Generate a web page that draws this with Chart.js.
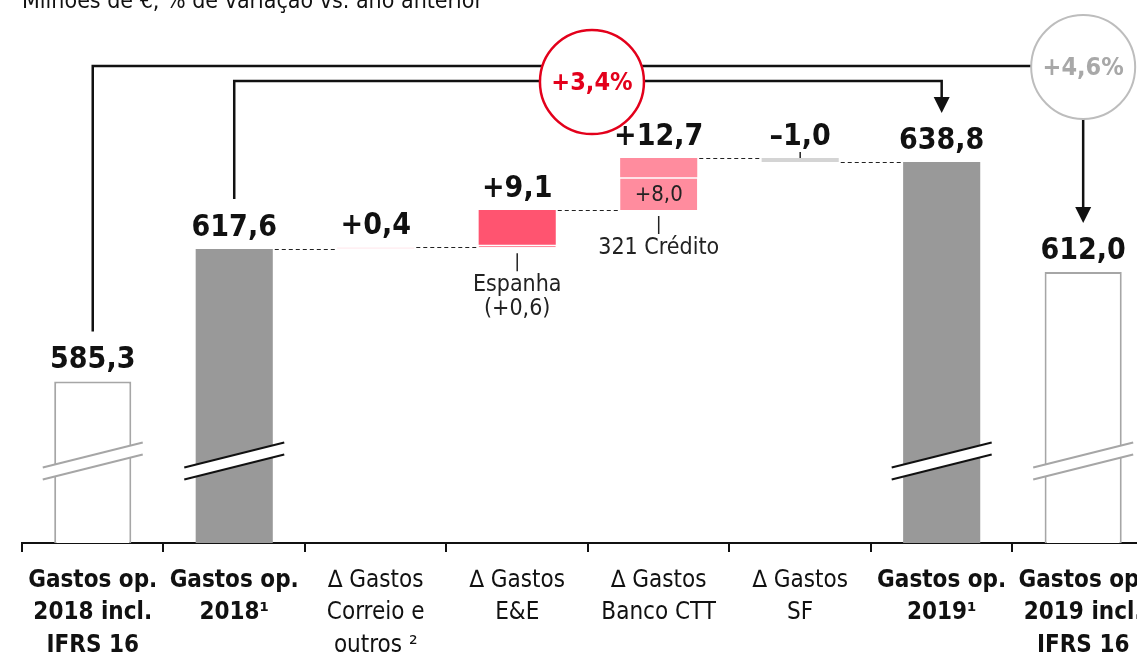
<!DOCTYPE html>
<html>
<head>
<meta charset="utf-8">
<script src="https://cdn.jsdelivr.net/npm/chart.js@4.4.1/dist/chart.umd.min.js"></script>
<style>
  html, body { margin: 0; padding: 0; background: #fff; overflow: hidden; }
  #wrap { width: 1160px; height: 656px; position: relative; }
</style>
</head>
<body>
<div id="wrap"><canvas id="chart"></canvas></div>
<script>
// Dados (milhões de euros)
const categories = [
  ['Gastos op.', '2018 incl.', 'IFRS 16'],
  ['Gastos op.', '2018¹'],
  ['∆ Gastos', 'Correio e', 'outros ²'],
  ['∆ Gastos', 'E&E'],
  ['∆ Gastos', 'Banco CTT'],
  ['∆ Gastos', 'SF'],
  ['Gastos op.', '2019¹'],
  ['Gastos op.', '2019 incl.', 'IFRS 16']
];
const totals = [585.3, 617.6, null, null, null, null, 638.8, 612.0];
const deltas = [null, null, 0.4, 9.1, 12.7, -1.0, null, null];
const subParts = [null, null, null, 0.6, 8.0, null, null, null];
const subNotes = [null, null, null, ['Espanha', '(+0,6)'], ['321 Crédito'], null, null, null];
const growthFrom = [1, 0];
const growthTo = [6, 7];
const growthLabels = ['+3,4%', '+4,6%'];
const title = 'Milhões de €, % de variação vs. ano anterior';

const FONT = '"DejaVu Sans Condensed", "DejaVu Sans", sans-serif';
const Y_MIN = 545.9;
const Y_MAX = 678.3;

// Calcular inicio e fim de cada variacao
let running = totals[1];
const deltaStart = [];
const deltaEnd = [];
deltas.forEach(d => {
  if (d === null) { deltaStart.push(null); deltaEnd.push(null); return; }
  deltaStart.push(running);
  running = +(running + d).toFixed(1);
  deltaEnd.push(running);
});
const restData = deltas.map((d, i) => d === null ? null : [deltaStart[i] + (subParts[i] || 0), deltaEnd[i]]);
const subData = subParts.map((s, i) => s === null ? null : [deltaStart[i], deltaStart[i] + s]);

const hollow = i => i === 0 || i === 7;
const deltaColors = ['#fff0f3', '#ff5470', '#ff8c9e', '#d4d4d4'];

function fmt(v) { return Math.abs(v).toFixed(1).replace('.', ','); }
function topOf(i) { return totals[i] !== null ? totals[i] : Math.max(deltaStart[i], deltaEnd[i]); }
function bottomOf(i) { return Math.min(deltaStart[i], deltaEnd[i]); }
function levelAfter(i) { return totals[i] !== null ? totals[i] : deltaEnd[i]; }

const decor = {
  id: 'decor',
  afterDraw(chart) {
    const { ctx, chartArea: area, scales: { x, y } } = chart;
    const barW = chart.getDatasetMeta(0).data[1].width;
    ctx.save();

    // Titulo (cortado no topo)
    ctx.fillStyle = '#111';
    ctx.font = '23px ' + FONT;
    ctx.textAlign = 'left';
    ctx.textBaseline = 'alphabetic';
    ctx.fillText(title, 22, 8);

    // Quebras do eixo
    totals.forEach((v, i) => {
      if (v === null) return;
      const cx = x.getPixelForValue(i);
      const yc = area.bottom - 82;
      ctx.fillStyle = '#fff';
      ctx.beginPath();
      ctx.moveTo(cx - 50, yc - 6 + 12.5);
      ctx.lineTo(cx + 50, yc - 6 - 12.5);
      ctx.lineTo(cx + 50, yc + 6 - 12.5);
      ctx.lineTo(cx - 50, yc + 6 + 12.5);
      ctx.closePath();
      ctx.fill();
      ctx.strokeStyle = hollow(i) ? '#a6a6a6' : '#111';
      ctx.lineWidth = 2;
      [-6, 6].forEach(off => {
        ctx.beginPath();
        ctx.moveTo(cx - 50, yc + off + 12.5);
        ctx.lineTo(cx + 50, yc + off - 12.5);
        ctx.stroke();
      });
    });

    // Linhas tracejadas entre barras
    ctx.strokeStyle = '#222';
    ctx.lineWidth = 1;
    ctx.setLineDash([4, 3]);
    for (let i = 1; i <= 5; i++) {
      const ly = Math.round(y.getPixelForValue(levelAfter(i))) + 0.5;
      ctx.beginPath();
      ctx.moveTo(x.getPixelForValue(i) + barW / 2 + 2, ly);
      ctx.lineTo(x.getPixelForValue(i + 1) - barW / 2 - 2, ly);
      ctx.stroke();
    }
    ctx.setLineDash([]);

    // Valores por cima das barras
    ctx.fillStyle = '#111';
    ctx.font = 'bold 30px ' + FONT;
    ctx.textAlign = 'center';
    categories.forEach((c, i) => {
      const topY = y.getPixelForValue(topOf(i));
      const txt = totals[i] !== null ? fmt(totals[i]) : (deltas[i] >= 0 ? '+' : '–') + fmt(deltas[i]);
      ctx.fillText(txt, x.getPixelForValue(i), topY - 13);
      if (deltas[i] !== null && deltas[i] < 0) {
        ctx.lineWidth = 1.5;
        ctx.strokeStyle = '#222';
        ctx.beginPath();
        ctx.moveTo(x.getPixelForValue(i), topY - 6);
        ctx.lineTo(x.getPixelForValue(i), topY);
        ctx.stroke();
      }
    });

    // Notas por baixo e valor interior
    ctx.font = '23px ' + FONT;
    ctx.textBaseline = 'middle';
    subNotes.forEach((lines, i) => {
      if (!lines) return;
      const cx = x.getPixelForValue(i);
      const by = y.getPixelForValue(bottomOf(i));
      ctx.strokeStyle = '#222';
      ctx.lineWidth = 1.5;
      ctx.beginPath();
      ctx.moveTo(cx, by + 6);
      ctx.lineTo(cx, by + 24);
      ctx.stroke();
      ctx.fillStyle = '#222';
      lines.forEach((t, k) => ctx.fillText(t, cx, by + 38 + k * 24));
    });
    subParts.forEach((s, i) => {
      if (s === null || s < 2) return;
      const cx = x.getPixelForValue(i);
      const my = (y.getPixelForValue(subData[i][0]) + y.getPixelForValue(subData[i][1])) / 2 + 2;
      ctx.fillStyle = '#222';
      ctx.font = '22px ' + FONT;
      ctx.fillText('+' + fmt(s), cx, my);
    });

    // Setas de crescimento
    const levels = [area.top + 81, area.top + 66];
    ctx.strokeStyle = '#111';
    ctx.fillStyle = '#111';
    ctx.lineWidth = 2.5;
    growthLabels.forEach((g, k) => {
      const x0 = x.getPixelForValue(growthFrom[k]);
      const x1 = x.getPixelForValue(growthTo[k]);
      const y0 = y.getPixelForValue(totals[growthFrom[k]]) - 50;
      const tip = y.getPixelForValue(totals[growthTo[k]]) - 49;
      ctx.beginPath();
      ctx.moveTo(x0, y0);
      ctx.lineTo(x0, levels[k]);
      ctx.lineTo(x1, levels[k]);
      ctx.lineTo(x1, tip - 12);
      ctx.stroke();
      ctx.beginPath();
      ctx.moveTo(x1, tip);
      ctx.lineTo(x1 - 8, tip - 16);
      ctx.lineTo(x1 + 8, tip - 16);
      ctx.closePath();
      ctx.fill();
    });
    growthLabels.forEach((g, k) => {
      const x0 = x.getPixelForValue(growthFrom[k]);
      const x1 = x.getPixelForValue(growthTo[k]);
      const cx = k === 0 ? (x0 + x1) / 2 + 4 : x1;
      const cy = levels[k] + 1;
      const col = k === 0 ? '#e3001b' : '#bdbdbd';
      ctx.beginPath();
      ctx.arc(cx, cy, 52, 0, Math.PI * 2);
      ctx.fillStyle = '#fff';
      ctx.fill();
      ctx.lineWidth = k === 0 ? 2.5 : 2;
      ctx.strokeStyle = col;
      ctx.stroke();
      ctx.fillStyle = k === 0 ? '#e3001b' : '#a8a8a8';
      ctx.font = 'bold 25px ' + FONT;
      ctx.textAlign = 'center';
      ctx.textBaseline = 'middle';
      ctx.fillText(g, cx, cy + 1);
    });

    ctx.restore();
  }
};

new Chart(document.getElementById('chart'), {
  type: 'bar',
  data: {
    labels: categories,
    datasets: [
      {
        label: 'Gastos',
        data: totals,
        backgroundColor: totals.map((v, i) => hollow(i) ? '#ffffff' : '#999999'),
        borderColor: totals.map((v, i) => hollow(i) ? '#a6a6a6' : '#999999'),
        borderWidth: totals.map((v, i) => hollow(i) ? 2 : 0),
        borderSkipped: 'start'
      },
      {
        label: 'Variação',
        data: restData,
        backgroundColor: deltas.map((d, i) => d === null ? null : deltaColors[i - 2]),
        borderWidth: 0
      },
      {
        label: 'Destaque',
        data: subData,
        backgroundColor: '#ff8c9e',
        borderColor: '#ffffff',
        borderWidth: { top: 1.5, bottom: 0, left: 0, right: 0 },
        borderSkipped: false
      }
    ]
  },
  options: {
    responsive: true,
    maintainAspectRatio: false,
    animation: false,
    layout: { padding: { left: 22, right: 4, top: 0, bottom: 0 } },
    datasets: { bar: { barPercentage: 0.545, categoryPercentage: 1 } },
    plugins: { legend: { display: false }, tooltip: { enabled: false }, title: { display: false } },
    scales: {
      x: {
        stacked: true,
        grid: { offset: true, drawOnChartArea: false, color: '#111', lineWidth: 2, tickLength: 9 },
        border: { color: '#111', width: 2 },
        ticks: {
          autoSkip: false,
          maxRotation: 0,
          padding: 12,
          color: '#111',
          font: ctx => ({ family: FONT, size: 24, weight: [0, 1, 6, 7].includes(ctx.index) ? 'bold' : 'normal', lineHeight: 1.36 })
        },
        afterFit: s => { s.height = 113; }
      },
      y: {
        display: false,
        stacked: false,
        min: Y_MIN,
        max: Y_MAX
      }
    }
  },
  plugins: [decor]
});
</script>
</body>
</html>
